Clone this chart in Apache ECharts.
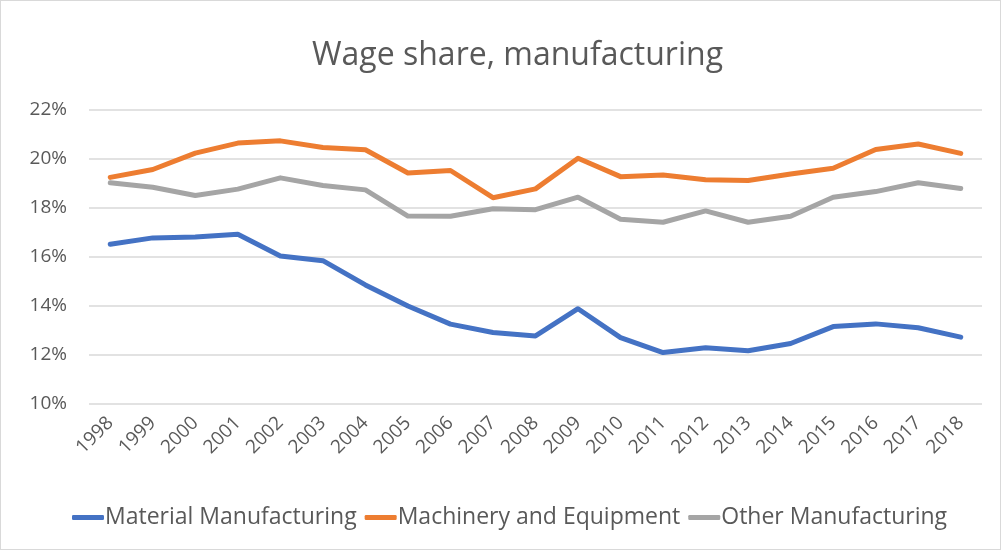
<!DOCTYPE html>
<html>
<head>
<meta charset="utf-8">
<script src="https://cdn.jsdelivr.net/npm/echarts@6/dist/echarts.min.js"></script>
<style>
  html, body { margin: 0; padding: 0; background: #fff; }
  #chart { width: 1001px; height: 550px; box-sizing: border-box; border: 1px solid #d9d9d9; }
</style>
</head>
<body>
<div id="chart"></div>
<script>
var years = ['1998','1999','2000','2001','2002','2003','2004','2005','2006','2007','2008',
             '2009','2010','2011','2012','2013','2014','2015','2016','2017','2018'];
// wage share, percent
var material = [16.52, 16.78, 16.82, 16.93, 16.04, 15.85, 14.86, 14.0, 13.26, 12.92, 12.78,
                13.89, 12.71, 12.1, 12.3, 12.17, 12.47, 13.16, 13.27, 13.11, 12.73];
var machinery = [19.25, 19.57, 20.24, 20.65, 20.74, 20.47, 20.38, 19.43, 19.53, 18.42, 18.78,
                 20.03, 19.28, 19.35, 19.15, 19.12, 19.39, 19.62, 20.39, 20.61, 20.23];
var other = [19.03, 18.85, 18.51, 18.77, 19.23, 18.92, 18.74, 17.67, 17.66, 17.97, 17.93,
             18.44, 17.54, 17.42, 17.88, 17.42, 17.66, 18.44, 18.67, 19.03, 18.8];

var font = '"Open Sans", sans-serif';
var chart = echarts.init(document.getElementById('chart'));

function line(name, data, color) {
  return {
    name: name,
    type: 'line',
    data: data,
    symbol: 'none',
    lineStyle: { color: color, width: 5, cap: 'round', join: 'round' },
    itemStyle: { color: color }
  };
}

chart.setOption({
  animation: false,
  title: {
    text: 'Wage share, manufacturing',
    left: 306,
    top: 34,
    textStyle: { fontFamily: font, fontSize: 32, fontWeight: 'normal', color: '#595959' }
  },
  grid: { left: 88, right: 18, top: 109, bottom: 145 },
  legend: {
    bottom: 15,
    left: 66,
    icon: 'roundRect',
    itemWidth: 32,
    itemHeight: 5,
    itemGap: 8,
    textStyle: { fontFamily: font, fontSize: 23, color: '#595959', padding: [0, 0, 0, -4] },
    data: ['Material Manufacturing', 'Machinery and Equipment', 'Other Manufacturing']
  },
  xAxis: {
    type: 'category',
    data: years,
    boundaryGap: true,
    axisLine: { show: false },
    axisTick: { show: false },
    axisLabel: { rotate: 45, fontFamily: font, fontSize: 19, color: '#595959', margin: 16 }
  },
  yAxis: {
    type: 'value',
    min: 10,
    max: 22,
    interval: 2,
    axisLine: { show: false },
    axisTick: { show: false },
    axisLabel: { formatter: '{value}%', fontFamily: font, fontSize: 19, color: '#595959', margin: 22 },
    splitLine: { lineStyle: { color: '#d9d9d9', width: 1.5 } }
  },
  series: [
    line('Material Manufacturing', material, '#4472C4'),
    line('Machinery and Equipment', machinery, '#ED7D31'),
    line('Other Manufacturing', other, '#A5A5A5')
  ]
});
</script>
</body>
</html>
